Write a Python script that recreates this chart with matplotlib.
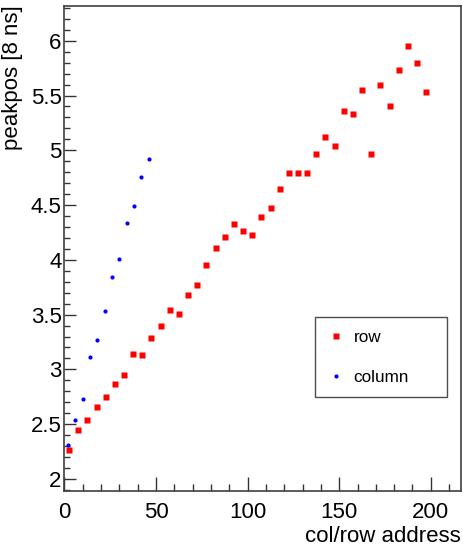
import numpy as np
import matplotlib
matplotlib.use("Agg")
import matplotlib.pyplot as plt
from matplotlib.ticker import MultipleLocator

plt.rcParams['font.family'] = ['Liberation Sans', 'DejaVu Sans']

# peak position vs. row address (steps of 5)
row_addr = [2.5, 7.5, 12.5, 17.5, 22.5, 27.5, 32.5, 37.5, 42.5, 47.5,
            52.5, 57.5, 62.5, 67.5, 72.5, 77.5, 82.5, 87.5, 92.5, 97.5,
            102.5, 107.5, 112.5, 117.5, 122.5, 127.5, 132.5, 137.5, 142.5, 147.5,
            152.5, 157.5, 162.5, 167.5, 172.5, 177.5, 182.5, 187.5, 192.5, 197.5]
row_peak = [2.26, 2.45, 2.54, 2.66, 2.75, 2.87, 2.95, 3.14, 3.13, 3.29,
            3.40, 3.54, 3.51, 3.68, 3.77, 3.95, 4.11, 4.21, 4.33, 4.26,
            4.23, 4.39, 4.47, 4.65, 4.79, 4.79, 4.79, 4.97, 5.12, 5.04,
            5.36, 5.33, 5.55, 4.97, 5.60, 5.40, 5.73, 5.95, 5.80, 5.53]

# peak position vs. column address (steps of 4)
col_addr = [2, 6, 10, 14, 18, 22, 26, 30, 34, 38, 42, 46]
col_peak = [2.31, 2.54, 2.73, 3.11, 3.27, 3.53, 3.84, 4.01, 4.34, 4.49, 4.76, 4.925]

fig = plt.figure(figsize=(4.63, 5.47), dpi=100)
ax = fig.add_axes([0.1393, 0.1024, 0.8564, 0.8872])

ax.plot(row_addr, row_peak, ls='none', marker='s', ms=3.7, mec='none', color='#ff0000', label='row')
ax.plot(col_addr, col_peak, ls='none', marker='o', ms=3.0, mec='none', color='#0000ff', label='column')

ax.set_xlim(0, 216.5)
ax.set_ylim(1.89, 6.32)
ax.xaxis.set_major_locator(MultipleLocator(50))
ax.xaxis.set_minor_locator(MultipleLocator(10))
ax.yaxis.set_major_locator(MultipleLocator(0.5))
ax.yaxis.set_minor_locator(MultipleLocator(0.1))
ax.yaxis.set_major_formatter(plt.FuncFormatter(lambda v, p: f'{v:g}'))

ax.tick_params(which='both', direction='in', top=False, right=False, labelsize=16, color='0.2')
ax.tick_params(axis='x', which='major', length=10, width=1, pad=8)
ax.tick_params(axis='x', which='minor', length=5, width=1)
ax.tick_params(axis='y', which='major', length=8.6, width=1, pad=2)
ax.tick_params(axis='y', which='minor', length=4.3, width=1)
for s in ax.spines.values():
    s.set_linewidth(1.2)
    s.set_color('0.25')

ax.set_xlabel('col/row address', fontsize=16, loc='right', labelpad=2)
ax.set_ylabel('peakpos [8 ns]', fontsize=16, loc='top', labelpad=6)

# legend box, top-left corner pinned, width stretched to the box
leg = ax.legend(loc='upper left', bbox_to_anchor=(315 / 463, 1 - 317 / 547, 132 / 463, 0.0),
                bbox_transform=fig.transFigure, mode='expand', borderaxespad=0,
                fontsize=12.3, frameon=True, fancybox=False, edgecolor='0.3', framealpha=1,
                handlelength=1.0, handletextpad=0.5, labelspacing=1.45,
                borderpad=0.75, markerscale=1.0)
leg.get_frame().set_linewidth(1.0)

fig.savefig('out.png', dpi=100)
